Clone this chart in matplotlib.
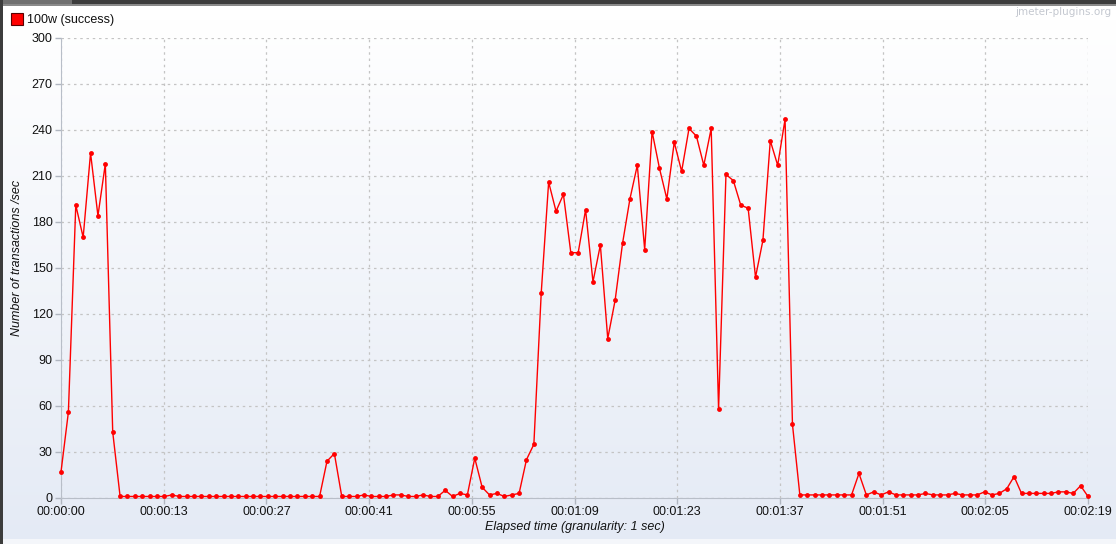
import numpy as np
import matplotlib.pyplot as plt
from matplotlib.patches import Rectangle

plt.rcParams['font.family'] = ['Liberation Sans', 'DejaVu Sans']

# transactions per second, one value per second of elapsed time
tps = [17, 56, 191, 170, 225, 184, 218, 43, 1, 1,
       1, 1, 1, 1, 1, 2, 1, 1, 1, 1,
       1, 1, 1, 1, 1, 1, 1, 1, 1, 1,
       1, 1, 1, 1, 1, 1, 24, 29, 1, 1,
       1, 2, 1, 1, 1, 2, 2, 1, 1, 2,
       1, 1, 5, 1, 3, 2, 26, 7, 2, 3,
       1, 2, 3, 25, 35, 134, 206, 187, 198, 160,
       160, 188, 141, 165, 104, 129, 166, 195, 217, 162,
       239, 215, 195, 232, 213, 241, 236, 217, 241, 58,
       211, 207, 191, 189, 144, 168, 233, 217, 247, 48,
       2, 2, 2, 2, 2, 2, 2, 2, 16, 2,
       4, 2, 4, 2, 2, 2, 2, 3, 2, 2,
       2, 3, 2, 2, 2, 4, 2, 3, 6, 14,
       3, 3, 3, 3, 3, 4, 4, 3, 8, 1]
seconds = np.arange(len(tps))

x_labels = ['00:00:00', '00:00:13', '00:00:27', '00:00:41', '00:00:55', '00:01:09',
            '00:01:23', '00:01:37', '00:01:51', '00:02:05', '00:02:19']
y_ticks = list(range(0, 301, 30))

W, H = 1116, 544
fig = plt.figure(figsize=(W / 100, H / 100), dpi=100)

# background panel with vertical gradient and window frame
bg = fig.add_axes([0, 0, 1, 1])
bg.set_xlim(0, W)
bg.set_ylim(H, 0)
bg.axis('off')
t = np.clip((np.arange(H) - 20) / (H - 20), 0, 1)[:, None]
top = np.array([1.0, 1.0, 1.0])
bot = np.array([228, 234, 245]) / 255
grad = (top * (1 - t) + bot * t)[:, None, :]
grad = np.repeat(grad, 2, axis=1)
bg.imshow(grad, extent=[0, W, H, 0], aspect='auto', interpolation='bilinear')
bg.add_patch(Rectangle((0, 0), W, 4, color='#3c3c3c', lw=0))
bg.add_patch(Rectangle((0, 0), 72, 4, color='#707070', lw=0))
bg.add_patch(Rectangle((0, 4), W, 1.5, color='#8a8a8a', lw=0))
bg.add_patch(Rectangle((0, 0), 3, H, color='#3c3c3c', lw=0))
bg.add_patch(Rectangle((3, 539), W, 5, color='#f4f6fa', lw=0))

# legend
bg.add_patch(Rectangle((11, 13), 12, 12, facecolor='#ff0000', edgecolor='#5a0000', lw=0.8))
bg.text(27, 20, '100w (success)', fontsize=9, va='center', ha='left', color='#111111')
bg.text(1111, 12, 'jmeter-plugins.org', fontsize=7.5, va='center', ha='right',
        color='#c4c8d0', family=['DejaVu Sans'])

ax = fig.add_axes([61 / W, 46 / H, 1027 / W, 460 / H])
ax.set_facecolor('none')
ax.plot(seconds, tps, color='#ff0000', lw=1, marker='o', markersize=3.5,
        markeredgewidth=0, clip_on=False, zorder=3)

ax.set_xlim(0, 139)
ax.set_ylim(0, 300)
ax.set_xticks(np.linspace(0, 139, len(x_labels)))
ax.set_xticklabels(x_labels)
ax.set_yticks(y_ticks)
ax.grid(True, color='#c4c4c4', linestyle=(0, (2, 3)), lw=0.9)
ax.set_axisbelow(True)
for s in ['top', 'right']:
    ax.spines[s].set_visible(False)
for s in ['left', 'bottom']:
    ax.spines[s].set_color('#b8bec8')
ax.tick_params(axis='both', colors='#b0b6c0', labelcolor='#111111', labelsize=9,
               length=4, width=1, pad=2)

fig.text(17 / W, 1 - 258 / H, 'Number of transactions /sec', rotation=90, style='italic',
         fontsize=9, ha='center', va='center', color='#111111')
fig.text(575 / W, 1 - 527 / H, 'Elapsed time (granularity: 1 sec)', style='italic',
         fontsize=9, ha='center', va='center', color='#111111')

fig.savefig('out.png', dpi=100)
